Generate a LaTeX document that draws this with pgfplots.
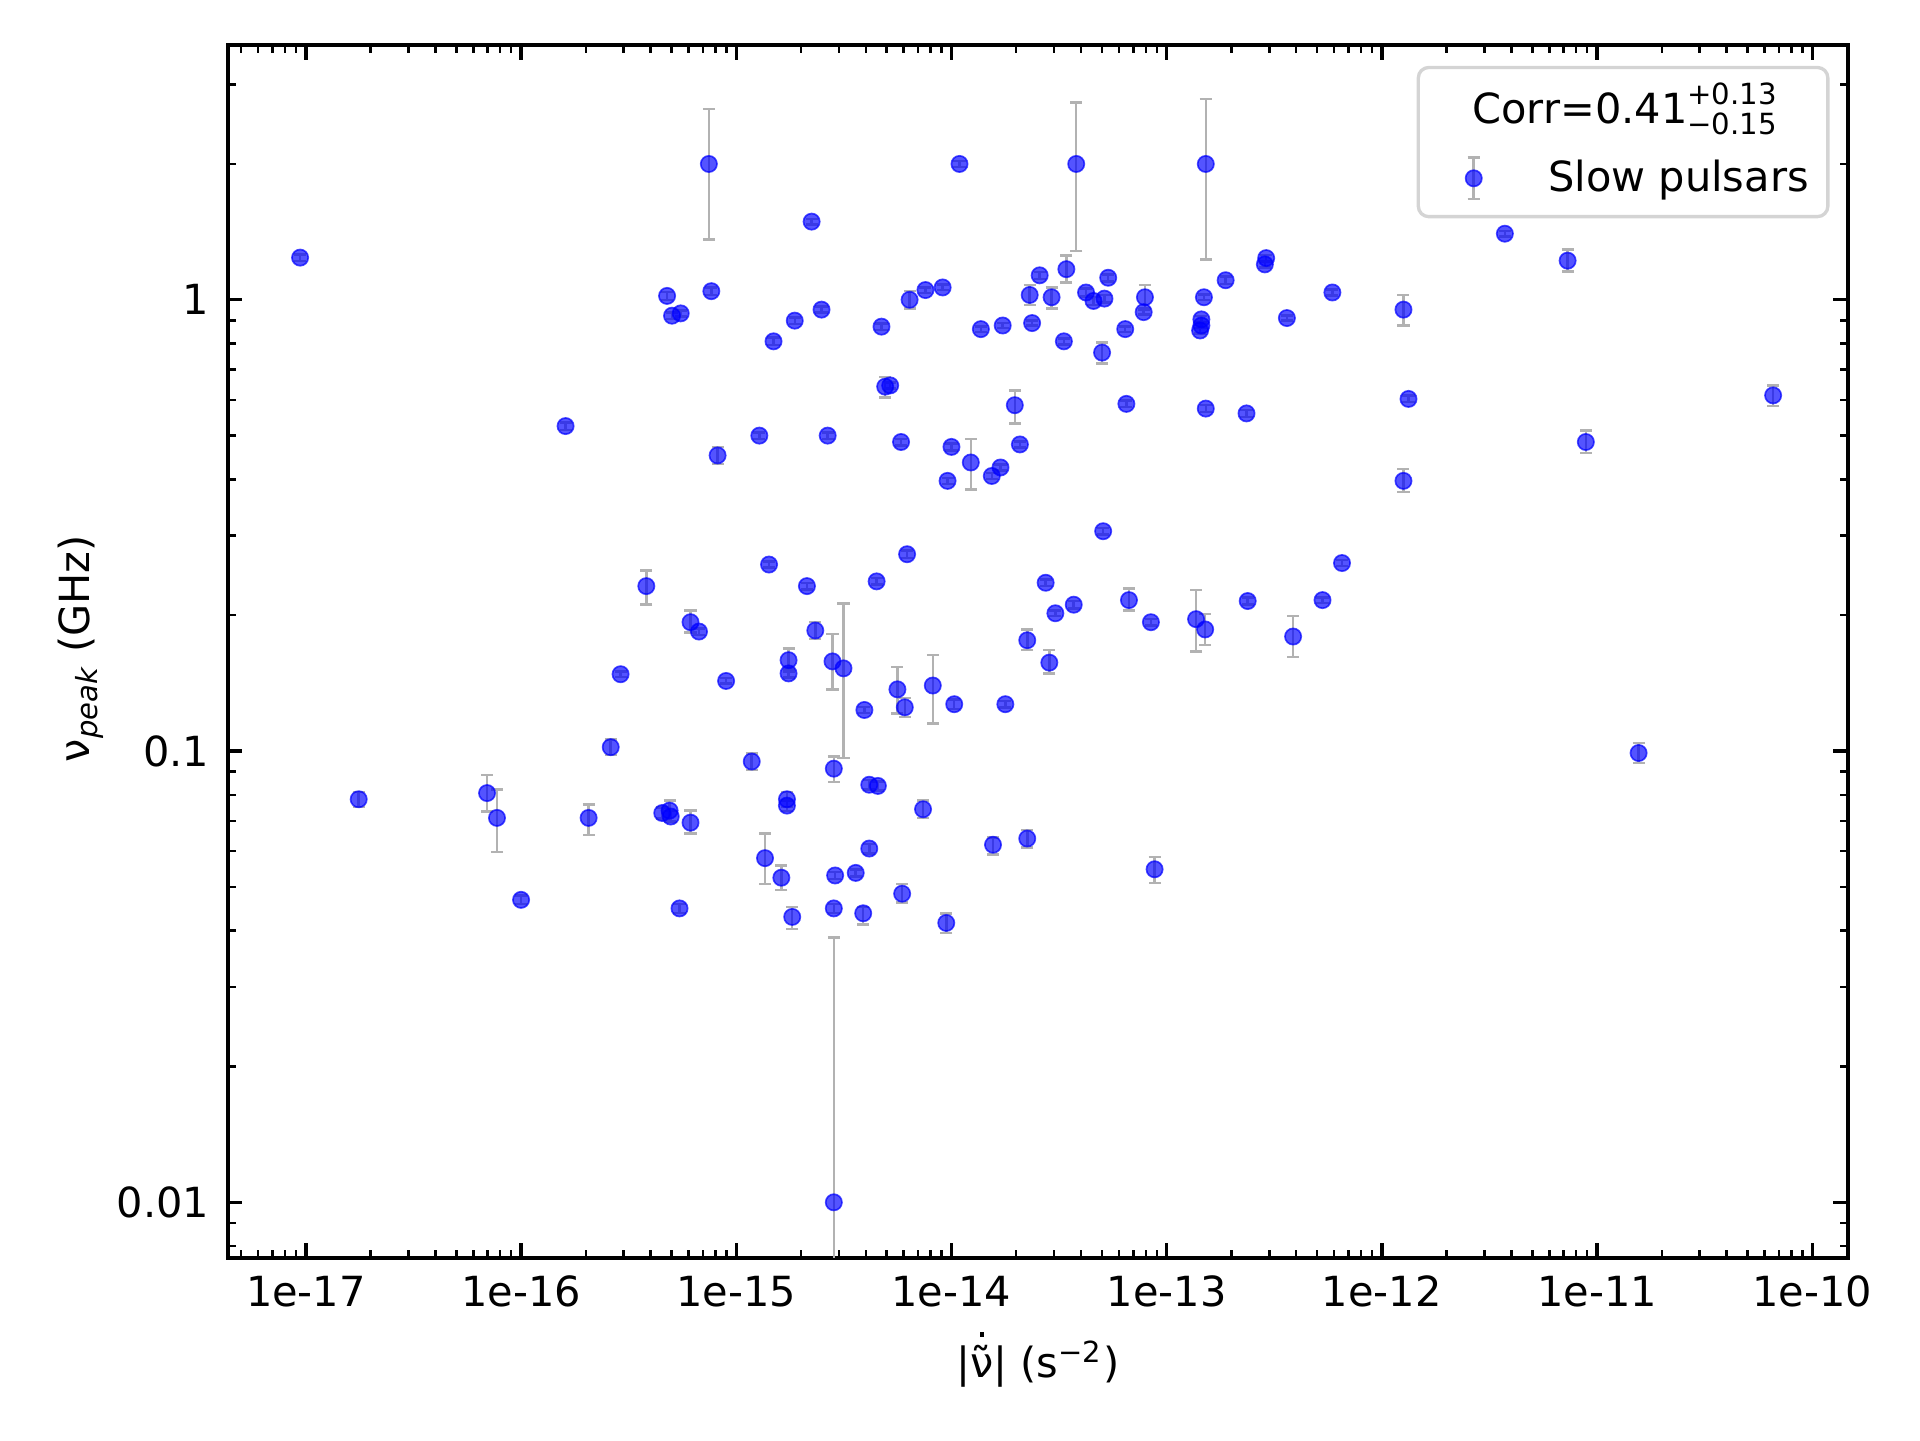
\documentclass[border=0pt]{standalone}
\usepackage{fontspec}
\setmainfont{DejaVu Sans}
\usepackage{pgfplots}
\usepackage{pgfplotstable}
\pgfplotsset{compat=1.18}

\pgfplotstableread{
x y ep em
9.4e-18 1.24 0.02 0.02
1.76e-17 0.0782 0.003 0.003
6.95e-17 0.0807 0.0078 0.0073
7.73e-17 0.0711 0.0111 0.0114
1.0e-16 0.0468 0.001 0.001
1.61e-16 0.525 0.01 0.01
2.06e-16 0.0711 0.0051 0.0059
2.61e-16 0.102 0.004 0.004
2.9e-16 0.148 0.002 0.002
3.82e-16 0.232 0.019 0.021
4.53e-16 0.0729 0.002 0.002
4.77e-16 1.02 0.02 0.02
4.9e-16 0.0738 0.004 0.004
4.96e-16 0.0716 0.002 0.002
5.03e-16 0.922 0.015 0.015
5.45e-16 0.0448 0.001 0.001
5.52e-16 0.933 0.015 0.015
6.13e-16 0.0694 0.0044 0.0038
6.13e-16 0.193 0.012 0.010
6.71e-16 0.184 0.003 0.003
7.46e-16 2.0 0.65 0.64
7.66e-16 1.045 0.02 0.02
8.19e-16 0.452 0.02 0.019
8.97e-16 0.143 0.002 0.002
1.18e-15 0.0948 0.004 0.004
1.28e-15 0.5 0.008 0.008
1.36e-15 0.0579 0.0077 0.0071
1.42e-15 0.259 0.004 0.004
1.49e-15 0.809 0.015 0.015
1.62e-15 0.0524 0.0034 0.0032
1.72e-15 0.0782 0.003 0.003
1.72e-15 0.0757 0.002 0.002
1.75e-15 0.159 0.0096 0.0094
1.75e-15 0.1486 0.003 0.003
1.82e-15 0.0429 0.0022 0.0026
1.87e-15 0.899 0.015 0.015
2.13e-15 0.232 0.004 0.004
2.24e-15 1.49 0.02 0.02
2.33e-15 0.185 0.008 0.008
2.49e-15 0.951 0.015 0.015
2.66e-15 0.5 0.008 0.008
2.8e-15 0.158 0.0236 0.021
2.84e-15 0.0914 0.0059 0.0061
2.88e-15 0.053 0.001 0.001
2.84e-15 0.0448 0.001 0.001
2.84e-15 0.01 0.0286 0.0099
3.15e-15 0.1525 0.0598 0.0559
3.59e-15 0.0537 0.001 0.001
3.94e-15 0.1233 0.002 0.002
3.89e-15 0.0437 0.0014 0.0024
4.15e-15 0.0842 0.002 0.002
4.15e-15 0.0608 0.0015 0.0015
4.49e-15 0.2377 0.004 0.004
4.55e-15 0.0837 0.002 0.002
4.73e-15 0.872 0.015 0.015
4.92e-15 0.642 0.033 0.035
5.19e-15 0.646 0.01 0.01
5.61e-15 0.137 0.0165 0.016
5.83e-15 0.484 0.008 0.008
5.9e-15 0.0483 0.0025 0.0021
6.07e-15 0.125 0.006 0.006
6.22e-15 0.273 0.005 0.005
6.39e-15 1.0 0.045 0.043
7.38e-15 0.0743 0.0034 0.0032
7.57e-15 1.051 0.015 0.015
8.19e-15 0.1397 0.0236 0.0247
9.1e-15 1.065 0.015 0.015
9.46e-15 0.0416 0.0021 0.0021
9.59e-15 0.397 0.006 0.006
1.0e-14 0.472 0.008 0.008
1.03e-14 0.127 0.003 0.003
1.09e-14 2.0 0.03 0.03
1.23e-14 0.436 0.055 0.056
1.37e-14 0.861 0.012 0.012
1.54e-14 0.407 0.006 0.006
1.56e-14 0.062 0.0024 0.003
1.69e-14 0.425 0.006 0.006
1.73e-14 0.877 0.012 0.012
1.78e-14 0.127 0.002 0.002
1.97e-14 0.584 0.046 0.052
2.08e-14 0.478 0.007 0.007
2.25e-14 0.176 0.01 0.0085
2.25e-14 0.064 0.0028 0.0028
2.31e-14 1.025 0.053 0.05
2.37e-14 0.888 0.012 0.012
2.57e-14 1.133 0.02 0.02
2.74e-14 0.236 0.004 0.004
2.85e-14 0.157 0.0105 0.0084
2.92e-14 1.013 0.051 0.056
3.04e-14 0.202 0.003 0.003
3.33e-14 0.809 0.012 0.012
3.42e-14 1.169 0.083 0.078
3.7e-14 0.211 0.004 0.004
3.8e-14 2.0 0.735 0.716
4.22e-14 1.038 0.02 0.02
4.57e-14 0.994 0.02 0.02
5.01e-14 0.764 0.04 0.041
5.07e-14 0.307 0.005 0.005
5.14e-14 1.006 0.02 0.02
5.35e-14 1.119 0.02 0.02
6.42e-14 0.861 0.012 0.012
6.5e-14 0.588 0.01 0.01
6.68e-14 0.216 0.013 0.011
7.82e-14 0.939 0.012 0.012
7.93e-14 1.013 0.065 0.056
8.45e-14 0.193 0.003 0.003
8.79e-14 0.0547 0.0035 0.0037
1.37e-13 0.196 0.0314 0.0296
1.43e-13 0.855 0.012 0.012
1.45e-13 0.905 0.015 0.015
1.45e-13 0.877 0.012 0.012
1.49e-13 1.013 0.015 0.015
1.51e-13 0.186 0.015 0.014
1.52e-13 2.0 0.786 0.771
1.52e-13 0.574 0.01 0.01
1.88e-13 1.105 0.02 0.02
2.35e-13 0.56 0.01 0.01
2.38e-13 0.215 0.004 0.004
2.86e-13 1.198 0.02 0.02
2.9e-13 1.237 0.02 0.02
3.62e-13 0.911 0.012 0.012
3.87e-13 0.1794 0.02 0.018
5.3e-13 0.216 0.003 0.003
5.89e-13 1.038 0.015 0.015
6.53e-13 0.261 0.004 0.004
1.26e-12 0.951 0.074 0.074
1.26e-12 0.397 0.025 0.022
1.33e-12 0.603 0.01 0.01
3.73e-12 1.401 0.02 0.02
7.3e-12 1.221 0.071 0.066
8.87e-12 0.484 0.029 0.026
1.56e-11 0.099 0.0052 0.0048
6.58e-11 0.614 0.032 0.033
}\data

\begin{document}
\begin{tikzpicture}
\useasboundingbox (-54.7bp,-43.7bp) rectangle (406.1bp,301.9bp);
\begin{axis}[
  at={(0,0)}, anchor=south west,
  scale only axis, width=388.8bp, height=291.1bp,
  xmode=log, ymode=log, log basis x=10, log basis y=10,
  xmin=4.34e-18, xmax=1.464e-10, ymin=0.00753, ymax=3.67,
  xtick={1e-17,1e-16,1e-15,1e-14,1e-13,1e-12,1e-11,1e-10},
  xticklabels={1e-17,1e-16,1e-15,1e-14,1e-13,1e-12,1e-11,1e-10},
  minor xtick={5e-18,6e-18,7e-18,8e-18,9e-18,
    2e-17,3e-17,4e-17,5e-17,6e-17,7e-17,8e-17,9e-17,
    2e-16,3e-16,4e-16,5e-16,6e-16,7e-16,8e-16,9e-16,
    2e-15,3e-15,4e-15,5e-15,6e-15,7e-15,8e-15,9e-15,
    2e-14,3e-14,4e-14,5e-14,6e-14,7e-14,8e-14,9e-14,
    2e-13,3e-13,4e-13,5e-13,6e-13,7e-13,8e-13,9e-13,
    2e-12,3e-12,4e-12,5e-12,6e-12,7e-12,8e-12,9e-12,
    2e-11,3e-11,4e-11,5e-11,6e-11,7e-11,8e-11,9e-11},
  ytick={0.01,0.1,1},
  yticklabels={0.01,0.1,1},
  minor ytick={0.008,0.009,0.02,0.03,0.04,0.05,0.06,0.07,0.08,0.09,
    0.2,0.3,0.4,0.5,0.6,0.7,0.8,0.9,2,3},
  tick align=inside, tick pos=both,
  major tick length=3.5bp, minor tick length=2bp,
  every tick/.style={black, line width=0.8bp},
  every minor tick/.style={black, line width=0.6bp},
  axis line style={line width=0.8bp},
  xticklabel style={yshift=-0.8bp},
  yticklabel style={xshift=-1bp},
  every axis x label/.style={at={(rel axis cs:0.5,0)}, anchor=base, yshift=-28.8bp},
  every axis y label/.style={at={(rel axis cs:0,0.5)}, xshift=-33.1bp, yshift=0.7bp, rotate=90, anchor=base},
  xlabel={|\mbox{\ooalign{^^^^03bd^^^^0303\cr\hidewidth\raisebox{9.9bp}{\rule{1.1bp}{1.1bp}}\hidewidth\cr}}| (s\textsuperscript{^^^^22122})},
  ylabel={ν\textsubscript{\itshape peak} (GHz)},
  legend style={
    at={(rel axis cs:1,1)}, anchor=north east, xshift=-4.4bp, yshift=-5bp,
    draw=black!17, line width=0.8bp, rounded corners=2.5bp,
    fill=white, fill opacity=0.8, draw opacity=1, text opacity=1,
    inner xsep=4.6bp, inner ysep=0bp, row sep=-3bp, column sep=0bp,
    nodes={inner sep=0bp, text height=13.4bp, text depth=6bp, anchor=base west},
  },
]
\addlegendimage{empty legend}
\addlegendentry{\hspace*{-18.2bp}Corr=0.41\raisebox{-2.8bp}{\fontsize{7bp}{7bp}\selectfont\begin{tabular}[b]{@{}l@{}}+0.13\\−0.15\end{tabular}}}
\addplot[only marks, mark=*, mark size=1.95bp,
  mark options={draw=blue, fill=blue, draw opacity=0.7, fill opacity=0.67, line width=0.4bp},
  legend image code/.code={
    \path[draw=none, fill=none] (0bp,-1bp) rectangle (26.6bp,7bp);
    \draw[draw=black!30, line width=0.6bp, draw opacity=1, rounded corners=0pt]
      (8.7bp,-1.8bp) -- (8.7bp,8.2bp)
      (7.25bp,-1.8bp) -- (10.15bp,-1.8bp)
      (7.25bp,8.2bp) -- (10.15bp,8.2bp);
    \draw[draw=blue, fill=blue, draw opacity=0.7, fill opacity=0.67, line width=0.4bp]
      (8.7bp,3.2bp) circle (1.95bp);
  },
  error bars/.cd, y dir=both, y explicit,
  error bar style={draw=black!30, line width=0.6bp, draw opacity=1},
  error mark options={rotate=90, mark size=1.45bp, draw=black!30, line width=0.6bp, draw opacity=1}]
  table[x=x, y=y, y error plus=ep, y error minus=em] {\data};
\addlegendentry{Slow pulsars}
\end{axis}
\end{tikzpicture}
\end{document}
